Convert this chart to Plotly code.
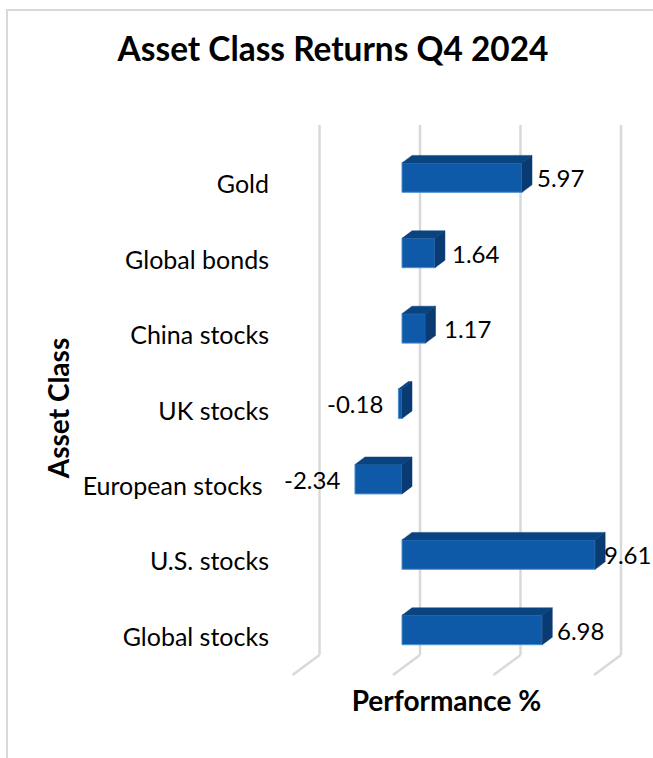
import plotly.graph_objects as go

categories = ["Global stocks", "U.S. stocks", "European stocks", "UK stocks",
              "China stocks", "Global bonds", "Gold"]
returns = [6.98, 9.61, -2.34, -0.18, 1.17, 1.64, 5.97]
grid_values = [-5, 0, 5, 10]
label_gaps = [16, 10, 16, 16, 19, 18, 16]

W, H = 653, 758
L, R, T, B = 270, 623, 125, 691
PX_PER_UNIT = 20.1
PX_PER_CAT = 75.4
ZERO_PX = 402
CAT0_PX = 630

x_range = [(L - ZERO_PX) / PX_PER_UNIT, (R - ZERO_PX) / PX_PER_UNIT]
y_range = [(CAT0_PX - B) / PX_PER_CAT, (CAT0_PX - T) / PX_PER_CAT]
FONT = "Lato"
BAR_W = 0.39
dx = 10 / PX_PER_UNIT
dy = 7.5 / PX_PER_CAT
FRONT, TOP, SIDE = "#0f5aa8", "#0a4480", "#0a3a72"
GRID = "#d9d9d9"

fig = go.Figure()
idx = list(range(len(categories)))
fig.add_trace(go.Bar(y=idx, x=returns, orientation="h", width=BAR_W,
                     marker=dict(color=FRONT, line=dict(color="#4b8fd0", width=1)),
                     cliponaxis=False, showlegend=False))

tx, ty, sx, sy = [], [], [], []
for i, v in enumerate(returns):
    lo, hi = min(v, 0), max(v, 0)
    yt, yb = i + BAR_W / 2, i - BAR_W / 2
    tx += [lo, hi, hi + dx, lo + dx, lo, None]
    ty += [yt, yt, yt + dy, yt + dy, yt, None]
    sx += [hi, hi, hi + dx, hi + dx, hi, None]
    sy += [yb, yt, yt + dy, yb + dy, yb, None]
for xs, ys, c in ((tx, ty, TOP), (sx, sy, SIDE)):
    fig.add_trace(go.Scatter(x=xs, y=ys, mode="lines", fill="toself", fillcolor=c,
                             line=dict(color=c, width=0.5), cliponaxis=False,
                             showlegend=False, hoverinfo="skip"))

shapes = []
back = 18 / PX_PER_UNIT
y_floor = (CAT0_PX - 655) / PX_PER_CAT
y_front = (CAT0_PX - 675) / PX_PER_CAT
fdx = 27 / PX_PER_UNIT
for g in grid_values:
    for x0, y0, x1, y1 in ((g + back, y_range[1], g + back, y_floor),
                           (g + back, y_floor, g + back - fdx, y_front)):
        shapes.append(dict(type="line", xref="x", yref="y", x0=x0, y0=y0, x1=x1, y1=y1,
                           layer="below", line=dict(color=GRID, width=2.5)))
# chart frame: top and left edges
fx0 = (7 - L) / (R - L)
fx1 = (W - L) / (R - L)
fy0 = (B - H) / (B - T)
fy1 = (B - 10) / (B - T)
shapes.append(dict(type="path", xref="paper", yref="paper", layer="below",
                   path="M %f,%f L %f,%f L %f,%f" % (fx0, fy0, fx0, fy1, fx1, fy1),
                   line=dict(color=GRID, width=2)))

annotations = []
for i, (v, gap) in enumerate(zip(returns, label_gaps)):
    annotations.append(dict(x=v, y=i, xref="x", yref="y",
                            text=f"{v:.2f}", showarrow=False,
                            xanchor="right" if v < 0 else "left",
                            xshift=-gap + 3 if v < 0 else gap - 3,
                            font=dict(family=FONT, size=24, color="#000")))

ticktext = [c + "\u00a0" if c == "European stocks" else c for c in categories]
fig.update_layout(
    width=W, height=H, autosize=False,
    margin=dict(l=L, r=W - R, t=T, b=H - B, pad=0),
    paper_bgcolor="white", plot_bgcolor="white",
    showlegend=False, barmode="overlay",
    title=dict(text="<b>Asset Class Returns Q4 2024</b>", x=333 / W, xanchor="center",
               y=1 - 49 / H, yanchor="middle", font=dict(family=FONT, size=33.4, color="#000")),
    shapes=shapes, annotations=annotations,
    xaxis=dict(range=x_range, showgrid=False, zeroline=False, showline=False,
               showticklabels=False, ticks="", automargin=False, tickvals=grid_values,
               title=dict(text="<b>Performance %</b>", standoff=0,
                          font=dict(family=FONT, size=28, color="#000"))),
    yaxis=dict(range=y_range, showgrid=False, zeroline=False, showline=False, ticks="",
               tickmode="array", tickvals=idx, ticktext=ticktext, automargin=False,
               ticklabelshift=7, ticklabelstandoff=0,
               tickfont=dict(family=FONT, size=25, color="#000"),
               title=dict(text="<b>Asset Class</b>", standoff=4,
                          font=dict(family=FONT, size=28, color="#000"))),
)
fig.write_html("out.html", config=dict(displayModeBar=False),
               post_script="document.body.style.margin='0';document.documentElement.style.overflow='hidden';")
